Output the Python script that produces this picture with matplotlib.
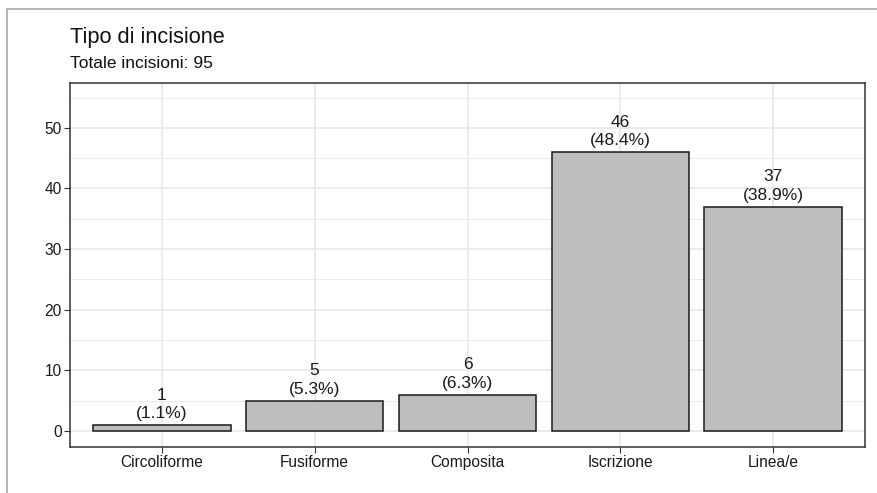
import matplotlib.pyplot as plt
import matplotlib.patches as patches
import numpy as np

categorie = ['Circoliforme', 'Fusiforme', 'Composita', 'Iscrizione', 'Linea/e']
conteggi = [1, 5, 6, 46, 37]
percentuali = ['1.1%', '5.3%', '6.3%', '48.4%', '38.9%']
totale = 95

plt.rcParams['font.family'] = ['Liberation Sans', 'DejaVu Sans']

fig = plt.figure(figsize=(8.77, 4.93), dpi=100)
ax = fig.add_axes([70/877, 46/493, 795/877, 364/493])

x = np.arange(1, len(categorie) + 1)
ax.bar(x, conteggi, width=0.9, color='#BEBEBE', edgecolor='#1a1a1a', linewidth=1.1, zorder=3)

for xi, c, p in zip(x, conteggi, percentuali):
    ax.text(xi, c + 0.6, f'{c}\n({p})', ha='center', va='bottom',
            fontsize=12.5, color='#1a1a1a', linespacing=1.3, zorder=4)

ax.set_xlim(0.4, 5.6)
ax.set_ylim(-2.64, 57.4)
ax.set_xticks(x)
ax.set_xticklabels(categorie)
ax.set_yticks([0, 10, 20, 30, 40, 50])
ax.set_yticks(np.arange(5, 60, 10), minor=True)
ax.tick_params(axis='y', which='minor', length=0)
ax.tick_params(axis='both', which='major', length=4, color='#333333',
               labelsize=11.2, labelcolor='#1a1a1a', pad=2)

ax.grid(True, which='major', color='#E6E6E6', linewidth=1.1, zorder=0)
ax.grid(True, which='minor', axis='y', color='#EBEBEB', linewidth=0.7, zorder=0)
ax.set_axisbelow(True)
for s in ax.spines.values():
    s.set_color('#333333')
    s.set_linewidth(1.1)

fig.text(70/877, 1 - 43/493, 'Tipo di incisione', fontsize=15.7, color='#111111',
         ha='left', va='baseline')
fig.text(70/877, 1 - 68/493, f'Totale incisioni: {totale}', fontsize=12.5,
         color='#111111', ha='left', va='baseline')

# cornice esterna dell'immagine
fig.patches.append(patches.Rectangle((7/877, -0.05), 1.0, 1 - 9/493 + 0.05,
                                     transform=fig.transFigure, fill=False,
                                     edgecolor='#A8A8A8', linewidth=1.2))

fig.savefig('out.png', dpi=100)
